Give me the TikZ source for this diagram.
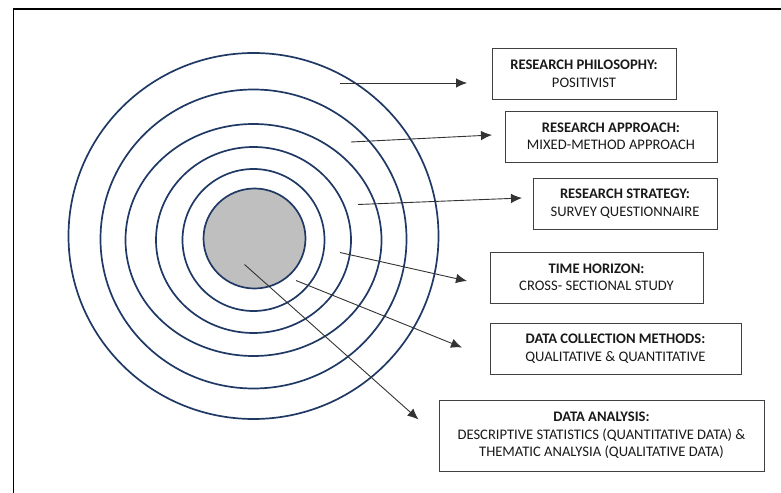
\documentclass[tikz,border=0pt]{standalone}
\usepackage{fontspec}
\setmainfont{Carlito}
\usepackage{xcolor}
\usetikzlibrary{arrows.meta}

\definecolor{ringblue}{HTML}{1F3864}
\definecolor{coregray}{HTML}{BFBFBF}

\tikzset{
	ring/.style={draw=ringblue, line width=1.7bp},
	layerbox/.style={draw=black!75, line width=0.9bp, align=center, inner sep=0pt,
		minimum height=51bp, text=black!90,
		font=\fontsize{14.6bp}{17.5bp}\selectfont},
	pointer/.style={draw=black!80, line width=0.9bp, -{Latex[length=11bp,width=9.5bp]}},
}

\begin{document}
\begin{tikzpicture}[x=1bp,y=-1bp]
	\useasboundingbox (0,0) rectangle (781,493);
	\draw[line width=1.6bp] (13.5,520) -- (13.5,9) -- (800,9);

	% onion rings
	\draw[ring] (253.5,236) ellipse [x radius=185bp, y radius=183bp];
	\draw[ring] (253.5,239) ellipse [x radius=153bp, y radius=149.5bp];
	\draw[ring] (253.5,240) ellipse [x radius=128bp, y radius=116bp];
	\draw[ring] (253.5,240) ellipse [x radius=97.5bp, y radius=93bp];
	\draw[ring] (253.5,240) ellipse [x radius=71bp, y radius=71bp];
	\draw[ring, fill=coregray] (254.5,238.5) ellipse [x radius=51bp, y radius=50bp];

	% layers
	\node[layerbox, minimum width=184bp] (RP) at (584,74)    {\textbf{RESEARCH PHILOSOPHY:}\\POSITIVIST};
	\node[layerbox, minimum width=212bp] (RA) at (611,136.5) {\textbf{RESEARCH APPROACH:}\\MIXED-METHOD APPROACH};
	\node[layerbox, minimum width=184bp] (RS) at (625,203.5) {\textbf{RESEARCH STRATEGY:}\\SURVEY QUESTIONNAIRE};
	\node[layerbox, minimum width=213bp] (TH) at (596.5,277.5) {\textbf{TIME HORIZON:}\\CROSS- SECTIONAL STUDY};
	\node[layerbox, minimum width=251bp] (DC) at (615.5,348.5) {\textbf{DATA COLLECTION METHODS:}\\QUALITATIVE \& QUANTITATIVE};
	\node[layerbox, minimum width=325bp, minimum height=71bp] (DA) at (601.5,435.5)
		{\textbf{DATA ANALYSIS:}\\DESCRIPTIVE STATISTICS (QUANTITATIVE DATA) \&\\THEMATIC ANALYSIA (QUALITATIVE DATA)};

	% arrow ends
	\coordinate (RPs) at (340,83);    \coordinate (RPe) at (467,83);
	\coordinate (RAs) at (351,142);   \coordinate (RAe) at (492,135);
	\coordinate (RSs) at (358,204.5); \coordinate (RSe) at (522,198);
	\coordinate (THs) at (340,252.5); \coordinate (THe) at (467,281);
	\coordinate (DCs) at (296,280.5); \coordinate (DCe) at (462,347.5);
	\coordinate (DAs) at (244.5,264.5); \coordinate (DAe) at (418.5,419.5);

	\draw[pointer] (RPs) -- (RPe);
	\draw[pointer] (RAs) -- (RAe);
	\draw[pointer] (RSs) -- (RSe);
	\draw[pointer] (THs) -- (THe);
	\draw[pointer] (DCs) -- (DCe);
	\draw[pointer] (DAs) -- (DAe);
\end{tikzpicture}
\end{document}
